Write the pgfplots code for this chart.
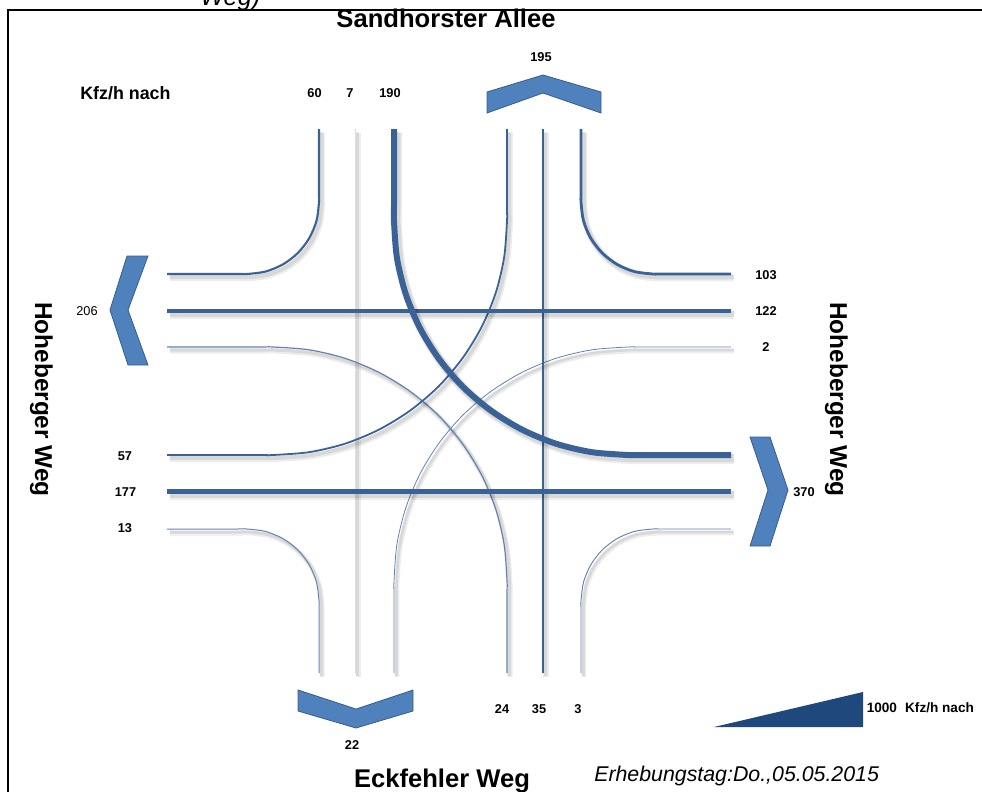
\documentclass[border=0pt]{standalone}
\usepackage{pgfplots}
\pgfplotsset{compat=1.18}
\usepackage{pgfplotstable}
\usepackage{fontspec}
\setmainfont{Liberation Sans}
\definecolor{lane}{RGB}{58,98,150}
\definecolor{lanelight}{RGB}{98,130,178}
\definecolor{lanegray}{RGB}{196,204,216}
\definecolor{chev}{RGB}{79,129,189}
\definecolor{chevdark}{RGB}{56,93,138}
\definecolor{wedge}{RGB}{31,73,125}

% north approach, 190 (left turn to east)
\pgfplotstableread{
x y
394 129
394 205
394 221
396.9 257.6
405.5 293.3
419.5 327.2
438.7 358.5
462.5 386.5
490.5 410.3
521.8 429.5
555.7 443.6
591.4 452.1
628 455
644 455
731 455
}\pathNL
% north approach, 60 (right turn to west)
\pgfplotstableread{
x y
319 129
319 192
319 202
316.55 220.64
309.35 238
297.91 252.91
283 264.35
265.64 271.55
247 274
237 274
167 274
}\pathNR
% north approach, 7 (through)
\pgfplotstableread{
x y
355 129
355 673
}\pathNT
% west approach, 57 (left turn to north)
\pgfplotstableread{
x y
167 455
257 455
273 455
309.6 452.1
345.3 443.6
379.2 429.5
410.5 410.3
438.5 386.5
462.3 358.5
481.5 327.2
495.6 293.3
504.1 257.6
507 221
507 205
507 129
}\pathWL
% west approach, 177 (through)
\pgfplotstableread{
x y
167 491
731 491
}\pathWT
% west approach, 13 (right turn to south)
\pgfplotstableread{
x y
167 529
237 529
247 529
265.64 531.45
283 538.65
297.91 550.09
309.35 565
316.55 582.36
319 601
319 611
319 673
}\pathWR
% south approach, 24 (left turn to west)
\pgfplotstableread{
x y
507 673
507 597
507 581
504.1 544.4
495.6 508.7
481.5 474.8
462.3 443.5
438.5 415.5
410.5 391.7
379.2 372.5
345.3 358.4
309.6 349.9
273 347
257 347
167 347
}\pathSL
% south approach, 35 (through)
\pgfplotstableread{
x y
543 673
543 129
}\pathST
% south approach, 3 (right turn to east)
\pgfplotstableread{
x y
581 673
581 611
581 601
583.45 582.36
590.65 565
602.09 550.09
617 538.65
634.36 531.45
653 529
663 529
731 529
}\pathSR
% east approach, 2 (left turn to south)
\pgfplotstableread{
x y
731 347
644 347
628 347
591.4 349.9
555.7 358.4
521.8 372.5
490.5 391.7
462.5 415.5
438.7 443.5
419.5 474.8
405.5 508.7
396.9 544.4
394 581
394 597
394 673
}\pathEL
% east approach, 122 (through)
\pgfplotstableread{
x y
731 311
167 311
}\pathET
% east approach, 103 (right turn to north)
\pgfplotstableread{
x y
731 274
663 274
653 274
634.36 271.55
617 264.35
602.09 252.91
590.65 238
583.45 220.64
581 202
581 192
581 129
}\pathER

\newcommand\flow[3]{%
  \addplot[smooth, tension=0.5, black, opacity=0.07, line width=#2+3pt, line join=round] table[x expr=\thisrow{x}+3, y expr=\thisrow{y}+4]{#1};
  \addplot[smooth, tension=0.5, black, opacity=0.09, line width=#2+1.5pt, line join=round] table[x expr=\thisrow{x}+2.5, y expr=\thisrow{y}+3]{#1};
  \addplot[smooth, tension=0.5, #3, line width=#2, line join=round] table{#1};
}

\begin{document}
\begin{tikzpicture}
\begin{axis}[
  scale only axis, width=736.5pt, height=594pt,
  xmin=0, xmax=982, ymin=0, ymax=792, y dir=reverse,
  axis lines=none, ticks=none, clip=false,
]
% frame
\addplot[black, line width=0.9pt] coordinates {(8,792) (8,10) (982,10)};

% lanes
\flow{\pathNT}{0.75pt}{lanegray}
\flow{\pathSR}{0.7pt}{lanelight}
\flow{\pathEL}{0.6pt}{lanelight}
\flow{\pathWR}{0.75pt}{lanelight}
\flow{\pathSL}{0.9pt}{lanelight}
\flow{\pathST}{1.05pt}{lane}
\flow{\pathWL}{1.35pt}{lane}
\flow{\pathNR}{1.6pt}{lane}
\flow{\pathER}{2.1pt}{lane}
\flow{\pathET}{3.0pt}{lane}
\flow{\pathWT}{3.75pt}{lane}
\flow{\pathNL}{4.5pt}{lane}

% chevrons (exits)
\addplot[fill=chev, draw=chevdark, line width=0.6pt] coordinates {(487,92) (543,75) (601,92) (601,113) (543,93) (487,113)} -- cycle;
\addplot[fill=chev, draw=chevdark, line width=0.6pt] coordinates {(298,690) (356,709) (413,690) (413,711) (356,728) (298,711)} -- cycle;
\addplot[fill=chev, draw=chevdark, line width=0.6pt] coordinates {(127,256) (148,256) (128,310) (148,365) (128,365) (110,310)} -- cycle;
\addplot[fill=chev, draw=chevdark, line width=0.6pt] coordinates {(750,437) (770,437) (788,490) (770,546) (750,546) (768,490)} -- cycle;

% scale wedge
\addplot[fill=wedge, draw=none] coordinates {(714,727) (863,692) (863,727)} -- cycle;

% texts
\def\lab{\fontsize{9.6pt}{10pt}\selectfont\bfseries}
\node[anchor=base west, inner sep=0pt, font=\fontsize{19pt}{22pt}\selectfont\itshape] at (axis cs:200,5.5) {Weg)};
\node[anchor=base, inner sep=0pt, font=\fontsize{19.2pt}{22pt}\selectfont\bfseries] at (axis cs:446,27.5) {Sandhorster Allee};
\node[anchor=base, inner sep=0pt, font=\fontsize{19.2pt}{22pt}\selectfont\bfseries] at (axis cs:442,787) {Eckfehler Weg};
\node[anchor=base, inner sep=0pt, rotate=-90, font=\fontsize{18.3pt}{22pt}\selectfont\bfseries] at (axis cs:35,399.5) {Hoheberger Weg};
\node[anchor=base, inner sep=0pt, rotate=-90, font=\fontsize{18.3pt}{22pt}\selectfont\bfseries] at (axis cs:830,399.5) {Hoheberger Weg};
\node[anchor=base west, inner sep=0pt, font=\fontsize{13.4pt}{16pt}\selectfont\bfseries] at (axis cs:80,99) {Kfz/h nach};
\node[anchor=base west, inner sep=0pt, font=\fontsize{16pt}{19pt}\selectfont\itshape] at (axis cs:594,781) {Erhebungstag:Do.,05.05.2015};
\node[anchor=base west, inner sep=0pt, font=\fontsize{10.2pt}{11pt}\selectfont\bfseries] at (axis cs:866.5,712) {1000\hspace{0.6em}Kfz/h nach};

\node[anchor=base, inner sep=0pt, font=\lab] at (axis cs:314.5,98) {60};
\node[anchor=base, inner sep=0pt, font=\lab] at (axis cs:350,98) {7};
\node[anchor=base, inner sep=0pt, font=\lab] at (axis cs:390,98) {190};
\node[anchor=base, inner sep=0pt, font=\lab] at (axis cs:541,61.5) {195};
\node[anchor=base, inner sep=0pt, font=\lab] at (axis cs:766,279) {103};
\node[anchor=base, inner sep=0pt, font=\lab] at (axis cs:766,315) {122};
\node[anchor=base, inner sep=0pt, font=\lab] at (axis cs:766,351) {2};
\node[anchor=base, inner sep=0pt, font=\lab] at (axis cs:804,496) {370};
\node[anchor=base, inner sep=0pt, font=\fontsize{9.6pt}{10pt}\selectfont] at (axis cs:87,315) {206};
\node[anchor=base, inner sep=0pt, font=\lab] at (axis cs:125,460) {57};
\node[anchor=base, inner sep=0pt, font=\lab] at (axis cs:125.5,496) {177};
\node[anchor=base, inner sep=0pt, font=\lab] at (axis cs:125,532.5) {13};
\node[anchor=base, inner sep=0pt, font=\lab] at (axis cs:502,713) {24};
\node[anchor=base, inner sep=0pt, font=\lab] at (axis cs:539,713) {35};
\node[anchor=base, inner sep=0pt, font=\lab] at (axis cs:578,713) {3};
\node[anchor=base, inner sep=0pt, font=\lab] at (axis cs:352,749) {22};
\end{axis}
\pgfresetboundingbox
\path[use as bounding box] (current axis.south west) rectangle (current axis.north east);
\end{tikzpicture}
\end{document}
